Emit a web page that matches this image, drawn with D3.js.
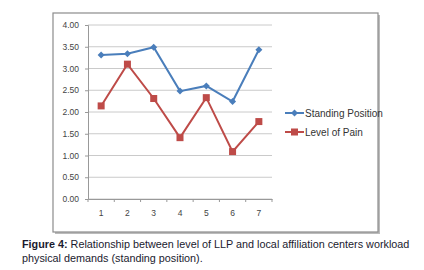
<!DOCTYPE html>
<html><head><meta charset="utf-8">
<script src="https://cdn.jsdelivr.net/npm/d3@7"></script>
<style>body{margin:0;background:#fff}svg{display:block}</style>
</head><body>
<svg id="c" width="424" height="270"></svg>
<script>
const categories = ["1","2","3","4","5","6","7"];
const standing = [3.31, 3.34, 3.49, 2.48, 2.60, 2.24, 3.43];
const pain = [2.14, 3.10, 2.31, 1.41, 2.33, 1.09, 1.78];
const yTicks = [0, 0.5, 1, 1.5, 2, 2.5, 3, 3.5, 4];
const seriesNames = ["Standing Position", "Level of Pain"];
const colors = ["#4A7EBB", "#BE4B48"];

const svg = d3.select("#c");
// frame with shadow
svg.append("rect").attr("x",55).attr("y",15).attr("width",325).attr("height",219).attr("fill","#bbb");
svg.append("rect").attr("x",53).attr("y",13).attr("width",325).attr("height",219).attr("fill","#fff").attr("stroke","#8c8c8c").attr("stroke-width",1.2);

const x = d3.scaleBand().domain(categories).range([88, 272]);
const y = d3.scaleLinear().domain([0,4]).range([199, 25]);
const fontF = "'Liberation Sans', Arial, sans-serif";

// gridlines
svg.append("g").selectAll("line").data(yTicks).join("line")
  .attr("x1",88).attr("x2",272).attr("y1",d=>y(d)).attr("y2",d=>y(d))
  .attr("stroke","#bdbdbd").attr("stroke-width",0.8);

const yAxis = svg.append("g").attr("transform","translate(88,0)")
  .call(d3.axisLeft(y).tickValues(yTicks).tickFormat(d3.format(".2f")).tickSize(3).tickPadding(6));
yAxis.select(".domain").attr("stroke","#999");
yAxis.selectAll(".tick line").attr("stroke","#999");
yAxis.selectAll("text").attr("font-family",fontF).attr("font-size",8.5).attr("fill","#444");

const xAxis = svg.append("g").attr("transform","translate(0,199)")
  .call(d3.axisBottom(x).tickSize(0).tickPadding(11));
xAxis.select(".domain").attr("stroke","#999");
xAxis.selectAll("text").attr("font-family",fontF).attr("font-size",8.5).attr("fill","#444");
// category boundary ticks
const bounds = categories.map(c=>x(c)).concat([x.range()[1]]);
svg.append("g").selectAll("line").data(bounds).join("line")
  .attr("x1",d=>d).attr("x2",d=>d).attr("y1",199).attr("y2",202).attr("stroke","#999");

const line = d3.line().x((d,i)=>x(categories[i])+x.bandwidth()/2).y(d=>y(d));
[standing, pain].forEach((vals, si) => {
  svg.append("path").datum(vals).attr("d",line).attr("fill","none")
    .attr("stroke",colors[si]).attr("stroke-width",2);
  const g = svg.append("g");
  vals.forEach((v,i)=>{
    const cx = x(categories[i])+x.bandwidth()/2, cy = y(v);
    if (si===0) {
      g.append("path").attr("d",`M${cx},${cy-3.5}L${cx+3.5},${cy}L${cx},${cy+3.5}L${cx-3.5},${cy}Z`).attr("fill",colors[0]);
    } else {
      g.append("rect").attr("x",cx-3.5).attr("y",cy-3.5).attr("width",7).attr("height",7).attr("fill",colors[1]);
    }
  });
});

// legend
seriesNames.forEach((n,i)=>{
  const ly = 113 + i*19;
  svg.append("line").attr("x1",285).attr("x2",304).attr("y1",ly).attr("y2",ly).attr("stroke",colors[i]).attr("stroke-width",2);
  if (i===0) svg.append("path").attr("d",`M294.5,${ly-3.5}L298,${ly}L294.5,${ly+3.5}L291,${ly}Z`).attr("fill",colors[0]);
  else svg.append("rect").attr("x",291).attr("y",ly-3.5).attr("width",7).attr("height",7).attr("fill",colors[1]);
  svg.append("text").attr("x",305).attr("y",ly+3.5).attr("font-family",fontF).attr("font-size",10).attr("fill","#333").text(n);
});

// caption
const cap = svg.append("text").attr("font-family",fontF).attr("font-size",10.8).attr("fill","#1a1a2e");
cap.append("tspan").attr("x",22).attr("y",248).attr("font-weight","bold").text("Figure 4:");
cap.append("tspan").text(" Relationship between level of LLP and local affiliation centers workload");
cap.append("tspan").attr("x",22).attr("y",262).text("physical demands (standing position).");
</script>
</body></html>
